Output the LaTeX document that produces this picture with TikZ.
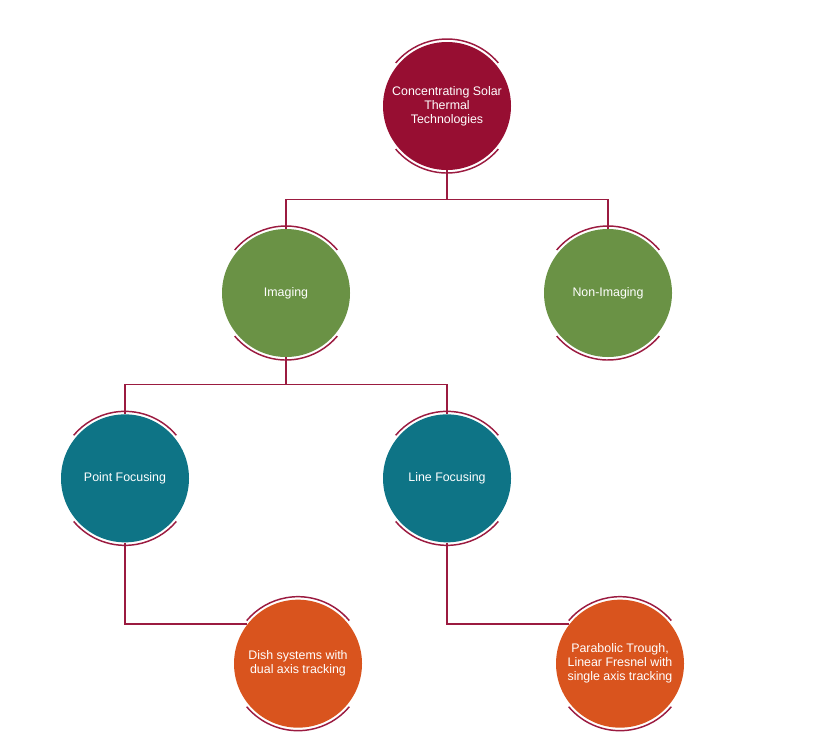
\documentclass[tikz,border=0pt]{standalone}
\usepackage{fontspec}
\setmainfont{Liberation Sans}
\usetikzlibrary{positioning}

\definecolor{wine}{HTML}{970E32}
\definecolor{leaf}{HTML}{6A9245}
\definecolor{teal}{HTML}{0E7486}
\definecolor{rust}{HTML}{D9541E}
\definecolor{line}{HTML}{9B1B40}

\tikzset{
  disc/.style={circle, minimum size=96pt, inner sep=0pt, text=white, align=center,
    font=\fontsize{9.3}{10.5}\selectfont},
  link/.style={draw=line, line width=1.1pt},
  rim/.style={draw=line, line width=1.1pt}
}

\begin{document}
\begin{tikzpicture}[node distance=139pt, auto]
\useasboundingbox (0pt,0pt) rectangle (622.5pt,-565.5pt);
\node (cst)[disc, fill=wine] at (335.25pt,-79.5pt) {Concentrating Solar\\Thermal\\Technologies};
\node (img)[disc, fill=leaf] [below of = cst, xshift=-120.75pt, yshift=-1.25pt] {Imaging};
\node (non)[disc, fill=leaf] [below of = cst, xshift=120.75pt, yshift=-1.25pt] {Non-Imaging};
\node (pf)[disc, fill=teal] [below of = img, xshift=-120.75pt] {Point Focusing};
\node (lf)[disc, fill=teal] [below of = img, xshift=120.75pt] {Line Focusing};
\node (dish)[disc, fill=rust] [below of = pf, xshift=129.75pt] {Dish systems with\\dual axis tracking};
\node (par)[disc, fill=rust] [below of = lf, xshift=129.75pt] {Parabolic Trough,\\Linear Fresnel with\\single axis tracking};
% rims
\foreach \n in {cst,img,non,pf,lf,dish,par} {
  \draw[rim] (\n.center) ++(40:50.25pt) arc (40:140:50.25pt);
  \draw[rim] (\n.center) ++(220:50.25pt) arc (220:320:50.25pt);
}
% links
\draw[link] (cst.south) -- ++(0,-22pt) -| (img.north);
\draw[link] (cst.south) -- ++(0,-22pt) -| (non.north);
\draw[link] (img.south) -- ++(0,-20.5pt) -| (pf.north);
\draw[link] (img.south) -- ++(0,-20.5pt) -| (lf.north);
\draw[link] (pf.south) |- (dish.142);
\draw[link] (lf.south) |- (par.142);
\end{tikzpicture}
\end{document}
